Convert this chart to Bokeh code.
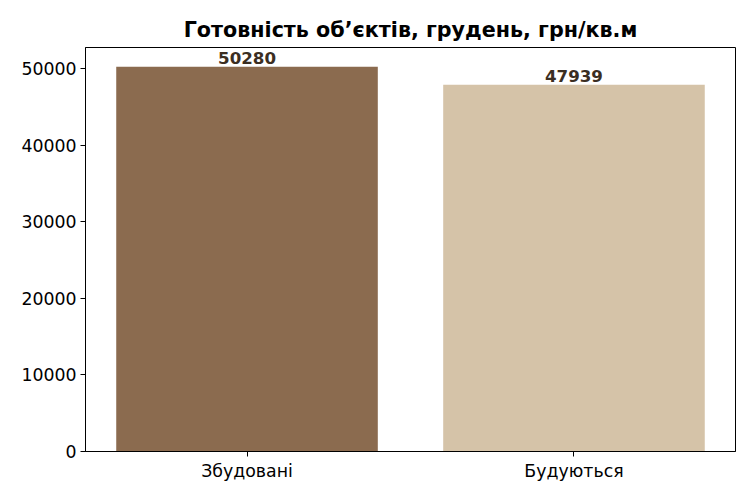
from bokeh.plotting import figure
from bokeh.models import ColumnDataSource, FactorRange, Range1d, FixedTicker
from bokeh.core.properties import value
from bokeh.embed import file_html
from bokeh.resources import INLINE

# data
categories = ["Збудовані", "Будуються"]
prices = [50280, 47939]
bar_colors = ["#8b6b4f", "#d5c3a8"]
y_ticks = [0, 10000, 20000, 30000, 40000, 50000]

FONT = "DejaVu Sans"

source = ColumnDataSource(dict(
    cat=categories,
    price=prices,
    color=bar_colors,
    label=[str(v) for v in prices],
))

p = figure(
    width=742, height=492,
    x_range=FactorRange(factors=categories, range_padding=-0.006,
                        range_padding_units="absolute"),
    y_range=Range1d(0, 52800),
    output_backend="svg",
    toolbar_location=None,
    tools="",
    min_border_left=85, min_border_right=7,
    min_border_top=47, min_border_bottom=41,
)

p.vbar(x="cat", top="price", width=0.8, source=source,
       fill_color="color", line_color=None)

p.text(x="cat", y="price", text="label", source=source,
       text_align="center", text_baseline="bottom", y_offset=-3,
       text_font=value(FONT), text_font_style="bold",
       text_font_size="12.5pt", text_color="#3b2e22")

p.title.text = "Готовність об’єктів, грудень, грн/кв.м"
p.title.align = "center"
p.title.text_font = FONT
p.title.text_font_style = "bold"
p.title.text_font_size = "15.5pt"
p.title.text_color = "black"
p.title.offset = 0
p.title.standoff = 11

p.grid.visible = False
p.background_fill_color = "white"
p.border_fill_color = "white"
p.outline_line_color = "black"
p.outline_line_width = 1

p.yaxis.ticker = FixedTicker(ticks=y_ticks)
for ax in (p.xaxis, p.yaxis):
    ax.axis_line_color = "black"
    ax.major_tick_in = 0
    ax.major_tick_out = 5
    ax.minor_tick_line_color = None
    ax.major_label_text_font = FONT
    ax.major_label_text_font_size = "13pt"
    ax.major_label_text_color = "black"
    ax.major_label_standoff = 4

open("out.html", "w").write(file_html(p, INLINE))
